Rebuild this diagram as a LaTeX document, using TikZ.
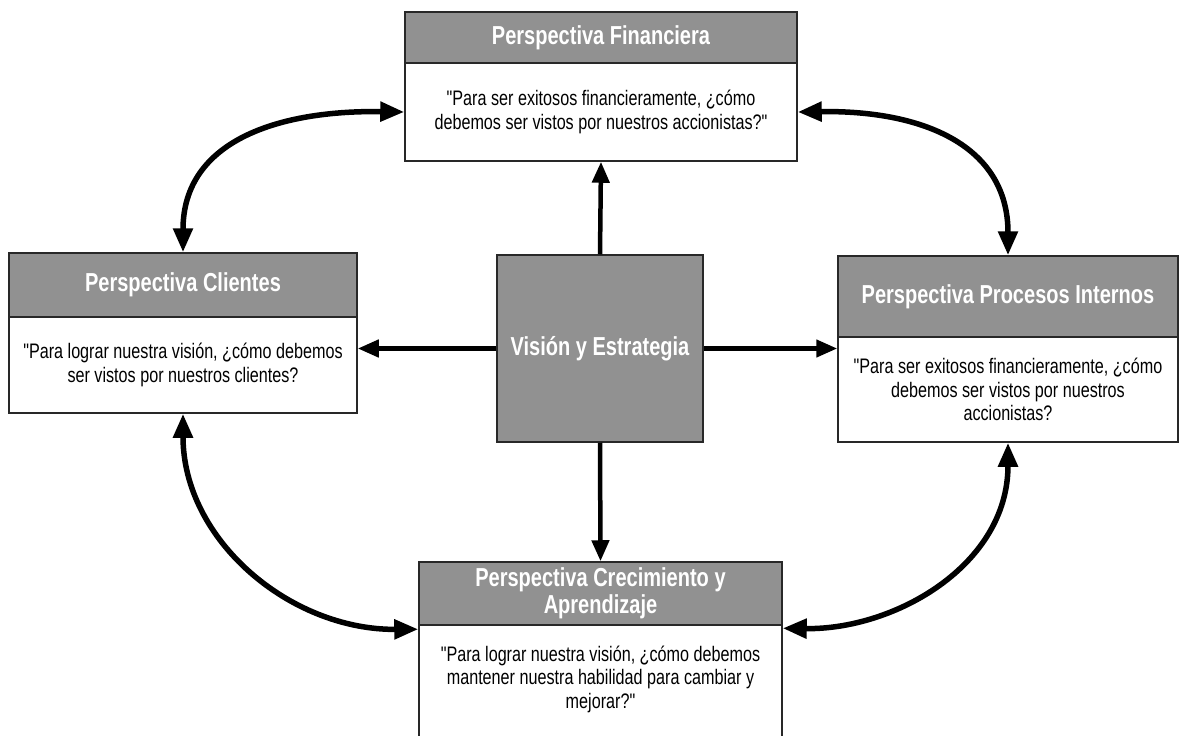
\documentclass[tikz,border=0pt]{standalone}
\usepackage{fontspec}
\setmainfont{Liberation Sans}
\newfontfamily\hfont[FakeStretch=0.77]{Liberation Sans}
\newfontfamily\bfont[FakeStretch=0.77]{Liberation Sans}
\usetikzlibrary{arrows.meta}
\definecolor{hdrgray}{RGB}{145,145,145}
\definecolor{edge}{RGB}{40,40,40}
\tikzset{
  hdr/.style={draw=edge, line width=1.5pt, fill=hdrgray, text=white,
    font=\hfont\bfseries\fontsize{26}{27.5}\selectfont, align=center, inner sep=0pt},
  bodybox/.style={draw=edge, line width=1.5pt, fill=white,
    font=\bfont\fontsize{21}{23.5}\selectfont, align=center, inner sep=0pt},
  btext/.style={font=\bfont\fontsize{21}{23.5}\selectfont, align=center, inner sep=0pt},
  link/.style={line width=4.5pt, -{Triangle[length=21pt,width=17pt]}},
  both/.style={line width=5.5pt, {Triangle[length=24pt,width=19pt]}-{Triangle[length=24pt,width=19pt]}},
}
\begin{document}
\begin{tikzpicture}[x=1pt,y=-1pt]
\useasboundingbox (0,0) rectangle (1181,736);
\fill[white] (0,0) rectangle (1181,736);

% top: Financiera
\node[hdr, minimum width=392pt, minimum height=51pt] (th) at (601,37.5) {Perspectiva Financiera};
\node[bodybox, minimum width=392pt, minimum height=98pt] (tb) at (601,112)
  {"Para ser exitosos financieramente, ¿cómo\\debemos ser vistos por nuestros accionistas?"};

% left: Clientes
\node[hdr, minimum width=348pt, minimum height=64pt] (lh) at (183,285) {Perspectiva Clientes};
\node[bodybox, minimum width=348pt, minimum height=96pt] (lb) at (183,365)
  {"Para lograr nuestra visión, ¿cómo debemos\\ser vistos por nuestros clientes?};

% center
\node[hdr, minimum width=206pt, minimum height=187pt] (vc) at (600,348.5) {Visión y Estrategia};

% right: Procesos Internos
\node[hdr, minimum width=340pt, minimum height=81pt] (rh) at (1008,296.5) {Perspectiva Procesos Internos};
\node[bodybox, minimum width=340pt, minimum height=105pt] (rb) at (1008,389.5)
  {"Para ser exitosos financieramente, ¿cómo\\debemos ser vistos por nuestros\\accionistas?};

% bottom: Crecimiento y Aprendizaje
\node[hdr, minimum width=363pt, minimum height=63pt] (bh) at (600.5,593.5)
  {Perspectiva Crecimiento y\\Aprendizaje};
\node[bodybox, minimum width=363pt, minimum height=135pt] (bb) at (600.5,692.5) {};
\node[btext] (bt) at (600.5,679)
  {"Para lograr nuestra visión, ¿cómo debemos\\mantener nuestra habilidad para cambiar y\\mejorar?"};

% straight arrows from the centre
\draw[link] (vc.north) -- (tb.south);
\draw[link] (vc.west) -- (lb.east |- vc.west);
\draw[link] (vc.east) -- (rb.west |- vc.east);
\draw[link] (vc.south) -- (bh.north);

% curved double arrows
\draw[both] (tb.west) .. controls (280,110) and (183,140) .. (lh.north);
\draw[both] (tb.east) .. controls (922,110) and (1008,145) .. (rh.north);
\draw[both] (lb.south) .. controls (183,540) and (290,630) .. ([yshift=-5pt]bb.north west);
\draw[both] (rb.south) .. controls (1008,565) and (895,630) .. ([yshift=-4pt]bb.north east);
\end{tikzpicture}
\end{document}
